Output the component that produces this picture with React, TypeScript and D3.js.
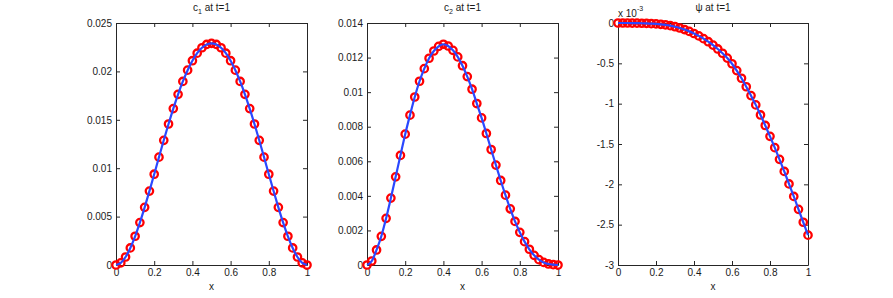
import * as d3 from 'd3';
import { useEffect, useRef } from 'react';

// grid points (x)
const xValues = [
  0, 0.025, 0.05, 0.075, 0.1, 0.125, 0.15, 0.175, 0.2, 0.225, 0.25, 0.275, 0.3, 0.325,
  0.35, 0.375, 0.4, 0.425, 0.45, 0.475, 0.5, 0.525, 0.55, 0.575, 0.6, 0.625, 0.65, 0.675,
  0.7, 0.725, 0.75, 0.775, 0.8, 0.825, 0.85, 0.875, 0.9, 0.925, 0.95, 0.975, 1,
];

// c1 at t=1
const c1Values = [
  0, 0.000218, 0.000827, 0.001763, 0.002968, 0.004383, 0.005956, 0.007637, 0.00938,
  0.011141, 0.012881, 0.014564, 0.016158, 0.017633, 0.018963, 0.020127, 0.021105,
  0.021881, 0.022444, 0.022786, 0.0229, 0.022786, 0.022444, 0.021881, 0.021105,
  0.020127, 0.018963, 0.017633, 0.016158, 0.014564, 0.012881, 0.011141, 0.00938,
  0.007637, 0.005956, 0.004383, 0.002968, 0.001763, 0.000827, 0.000218, 0,
];

// c2 at t=1
const c2Values = [
  0, 0.00023, 0.00087, 0.00166, 0.0027, 0.00387, 0.0051, 0.00634, 0.00757, 0.00867,
  0.00972, 0.01063, 0.01136, 0.01196, 0.01238, 0.01265, 0.01277, 0.01267, 0.01242,
  0.01204, 0.01153, 0.0109, 0.01017, 0.00934, 0.00851, 0.00761, 0.00668, 0.00578,
  0.00489, 0.00404, 0.00325, 0.00252, 0.00189, 0.00135, 0.00091, 0.00056, 0.00031,
  0.00015, 0.00006, 0.00002, 0,
];

// psi at t=1 (in units of 1e-3)
const psiValues = [
  0, 0, 0, -0.001, -0.002, -0.003, -0.005, -0.008, -0.011, -0.016, -0.023, -0.033,
  -0.046, -0.062, -0.081, -0.104, -0.13, -0.16, -0.194, -0.232, -0.274, -0.322, -0.375,
  -0.435, -0.505, -0.59, -0.685, -0.79, -0.9, -1.015, -1.14, -1.27, -1.405, -1.545,
  -1.69, -1.84, -1.995, -2.15, -2.31, -2.47, -2.63,
];

const xTicks = [0, 0.2, 0.4, 0.6, 0.8, 1];
const c1Ticks = [0, 0.005, 0.01, 0.015, 0.02, 0.025];
const c2Ticks = [0, 0.002, 0.004, 0.006, 0.008, 0.01, 0.012, 0.014];
const psiTicks = [-3, -2.5, -2, -1.5, -1, -0.5, 0];

const WIDTH = 893;
const HEIGHT = 298;
const TOP = 23;
const BOTTOM = 265;
const FONT = '"Liberation Sans", Arial, Helvetica, sans-serif';

const panels = [
  { left: 116, right: 307, values: c1Values, ticks: c1Ticks, domain: [0, 0.025], name: 'c', sub: '1' },
  { left: 367, right: 558, values: c2Values, ticks: c2Ticks, domain: [0, 0.014], name: 'c', sub: '2' },
  { left: 618, right: 808, values: psiValues, ticks: psiTicks, domain: [-3, 0], name: 'ψ', sub: '', exp: true },
];

const fmt = (d: number) => String(d);

const App = () => {
  const ref = useRef<SVGSVGElement>(null);

  useEffect(() => {
    const svg = d3.select(ref.current);
    svg.selectAll('*').remove();

    svg.append('rect').attr('width', WIDTH).attr('height', HEIGHT).attr('fill', '#fff');

    panels.forEach(p => {
      const x = d3.scaleLinear().domain([0, 1]).range([p.left, p.right]);
      const y = d3.scaleLinear().domain(p.domain).range([BOTTOM, TOP]);
      const g = svg.append('g');

      // box + ticks (inward)
      const styleAxis = (sel: any) => {
        sel.selectAll('path.domain').attr('stroke', '#262626').attr('stroke-width', 1);
        sel.selectAll('line').attr('stroke', '#262626').attr('stroke-width', 1);
        sel.selectAll('text').attr('fill', '#1a1a1a').style('font-family', FONT).style('font-size', '10px');
      };

      g.append('g')
        .attr('transform', `translate(0,${BOTTOM})`)
        .call(d3.axisBottom(x).tickValues(xTicks).tickSize(-4).tickSizeOuter(0).tickPadding(4).tickFormat(fmt as any))
        .call(styleAxis);
      g.append('g')
        .attr('transform', `translate(0,${TOP})`)
        .call(d3.axisTop(x).tickValues(xTicks).tickSize(-4).tickSizeOuter(0).tickFormat(() => ''))
        .call(styleAxis);
      g.append('g')
        .attr('transform', `translate(${p.left},0)`)
        .call(d3.axisLeft(y).tickValues(p.ticks).tickSize(-4).tickSizeOuter(0).tickPadding(4).tickFormat(fmt as any))
        .call(styleAxis);
      g.append('g')
        .attr('transform', `translate(${p.right},0)`)
        .call(d3.axisRight(y).tickValues(p.ticks).tickSize(-4).tickSizeOuter(0).tickFormat(() => ''))
        .call(styleAxis);
      g.selectAll('.domain').attr('fill', 'none');

      const pts = xValues.map((xv, i) => [xv, p.values[i]] as [number, number]);

      // markers
      g.selectAll('circle.m')
        .data(pts)
        .enter().append('circle')
        .attr('class', 'm')
        .attr('cx', d => x(d[0]))
        .attr('cy', d => y(d[1]))
        .attr('r', 3.7)
        .attr('fill', 'none')
        .attr('stroke', '#ff0000')
        .attr('stroke-width', 2.3);

      // solution line
      const line = d3.line<[number, number]>()
        .x(d => x(d[0]))
        .y(d => y(d[1]))
        .curve(d3.curveMonotoneX);
      g.append('path')
        .attr('d', line(pts))
        .attr('fill', 'none')
        .attr('stroke', '#2a48ff')
        .attr('stroke-width', 2.2);

      // title
      const title = g.append('text')
        .attr('x', (p.left + p.right) / 2)
        .attr('y', 11)
        .attr('text-anchor', 'middle')
        .style('font-family', FONT)
        .style('font-size', '10px')
        .attr('fill', '#1a1a1a');
      title.append('tspan').text(p.name);
      if (p.sub) {
        title.append('tspan').attr('dy', 3).style('font-size', '7px').text(p.sub);
        title.append('tspan').attr('dy', -3).text(' at t=1');
      } else {
        title.append('tspan').text(' at t=1');
      }

      // x label
      g.append('text')
        .attr('x', (p.left + p.right) / 2)
        .attr('y', 290)
        .attr('text-anchor', 'middle')
        .style('font-family', FONT)
        .style('font-size', '10px')
        .attr('fill', '#1a1a1a')
        .text('x');

      if (p.exp) {
        const e = g.append('text')
          .attr('x', p.left)
          .attr('y', 17)
          .style('font-family', FONT)
          .style('font-size', '10px')
          .attr('fill', '#1a1a1a');
        e.append('tspan').text('x 10');
        e.append('tspan').attr('dy', -6).style('font-size', '7px').text('-3');
      }
    });
  }, []);

  return (
    <svg
      ref={ref}
      width={WIDTH}
      height={HEIGHT}
      style={{ position: 'absolute', left: 0, top: 0, display: 'block' }}
    />
  );
};

export default App;
